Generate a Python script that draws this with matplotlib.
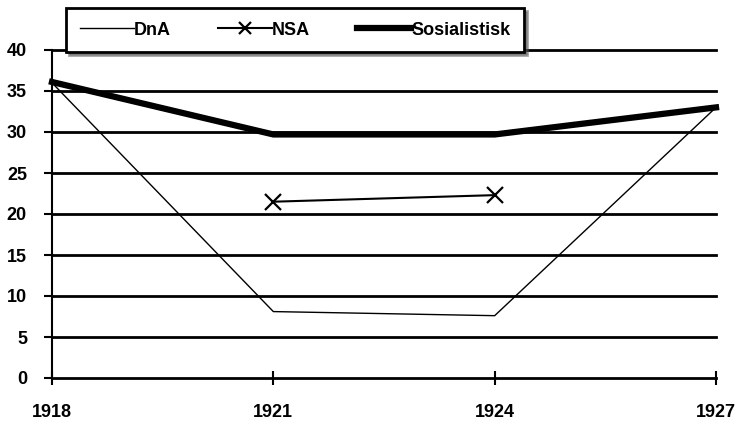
import matplotlib
matplotlib.use("Agg")
import matplotlib.pyplot as plt

years = ["1918", "1921", "1924", "1927"]
dna = [36.0, 8.1, 7.6, 33.0]
nsa_years = ["1921", "1924"]
nsa = [21.5, 22.3]
sosialistisk = [36.1, 29.7, 29.7, 33.0]
yticks = [0, 5, 10, 15, 20, 25, 30, 35, 40]

plt.rcParams['font.family'] = ['Liberation Sans', 'DejaVu Sans']
fig = plt.figure(figsize=(7.36, 4.26), dpi=100)
ax = fig.add_axes([52/736, 1-378/426, (716-52)/736, (378-50)/426])

xpos = list(range(len(years)))
nsa_pos = [years.index(y) for y in nsa_years]

for v in yticks[1:]:
    ax.axhline(v, color='black', lw=2.0, zorder=1)

ax.plot(xpos, dna, color='black', lw=1.0, label='DnA', zorder=3)
ax.plot(nsa_pos, nsa, color='black', lw=1.5, marker='x', ms=11, mew=1.6, label='NSA', zorder=3)
ax.plot(xpos, sosialistisk, color='black', lw=4.5, label='Sosialistisk', zorder=4)

ax.set_xlim(0, len(years)-1)
ax.set_ylim(0, 40)
ax.set_yticks(yticks)
ax.set_yticklabels([str(v) for v in yticks], fontsize=13, fontweight='bold')
ax.set_xticks(xpos)
ax.set_xticklabels(years, fontsize=13, fontweight='bold')
for s in ['top', 'right']:
    ax.spines[s].set_visible(False)
ax.spines['left'].set_linewidth(1.5)
ax.spines['bottom'].set_linewidth(2.0)
ax.tick_params(axis='y', direction='out', length=6, width=1.5, pad=12)
ax.tick_params(axis='x', direction='inout', length=10, width=1.5, pad=14)
for ln in ax.lines:
    ln.set_clip_on(False)

handles = ax.lines[-3:]
leg = fig.legend(handles=handles, loc='upper left',
                 bbox_to_anchor=(66/736, 1-8/426), ncol=3,
                 handlelength=3.0, columnspacing=2.6, handletextpad=0.0,
                 frameon=True, fancybox=False, shadow=True,
                 prop={'weight': 'bold', 'size': 13},
                 borderpad=0.75, borderaxespad=0)
leg.get_frame().set_edgecolor('black')
leg.get_frame().set_linewidth(2.0)
for lh in leg.get_lines():
    if lh.get_marker() == 'x':
        lh.set_markersize(9)

fig.savefig('out.png', dpi=100)
